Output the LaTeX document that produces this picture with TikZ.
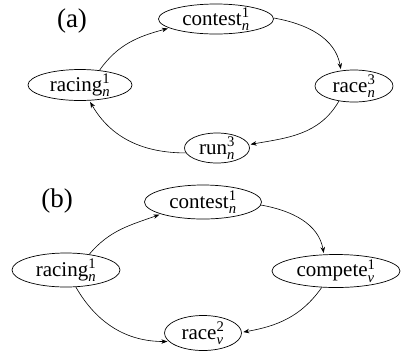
\documentclass[tikz,border=0pt]{standalone}
\usepackage{fontspec}
\usepackage{amsmath}
\setmainfont{Liberation Serif}
\usetikzlibrary{shapes.geometric,arrows.meta}
\newcommand{\ls}[2]{$^{\text{#1}}_{\textit{#2}}$}
\begin{document}
\begin{tikzpicture}[x=1pt,y=-1pt,
  st/.style={ellipse,draw,line width=0.7pt,inner xsep=0pt,inner ysep=-6pt,font=\fontsize{21}{24}\selectfont},
  lab/.style={font=\fontsize{27}{30}\selectfont},
  arr/.style={-{Stealth[length=6pt,width=4.5pt]},line width=0.6pt,shorten >=1.5pt}]
\useasboundingbox (0,0) rectangle (401,360);
% (a)
\node[lab] (la) at (72,21) {(a)};
\node[st,minimum width=115pt,minimum height=30pt] (c1) at (216,19) {contest\ls{1}{n}};
\node[st,minimum width=104pt,minimum height=31pt] (r1) at (80,85) {racing\ls{1}{n}};
\node[st,minimum width=78pt,minimum height=32pt] (ra1) at (354,86) {race\ls{3}{n}};
\node[st,minimum width=65pt,minimum height=30pt] (ru1) at (217,148) {run\ls{3}{n}};
\draw[arr] (r1.37) to[out=55,in=195] (c1.191);
\draw[arr] (c1.1) to[out=-10,in=100] (ra1.130);
\draw[arr] (ra1.225) to[out=240,in=10] (ru1.6);
\draw[arr] (ru1.189) to[out=180,in=-60] (r1.-59);
% (b)
\node[lab] (lb) at (57,201) {(b)};
\node[st,minimum width=117pt,minimum height=34pt] (c2) at (203,202) {contest\ls{1}{n}};
\node[st,minimum width=108pt,minimum height=34pt] (r2) at (66,270) {racing\ls{1}{n}};
\node[st,minimum width=128pt,minimum height=33pt] (co2) at (336,271) {compete\ls{1}{v}};
\node[st,minimum width=77pt,minimum height=35pt] (ra2) at (203,333) {race\ls{2}{v}};
\draw[arr] (r2.34) to[out=50,in=200] (c2.196);
\draw[arr] (c2.-3) to[out=-10,in=100] (co2.126);
\draw[arr] (co2.229) to[out=235,in=10] (ra2.1);
\draw[arr] (r2.-60) to[out=-60,in=180] (ra2.194);
\end{tikzpicture}
\end{document}
